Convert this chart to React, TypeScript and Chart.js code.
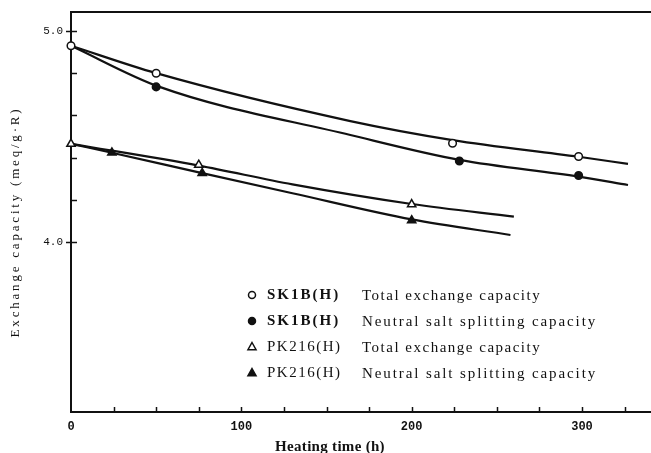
import React, { useEffect, useRef } from 'react';
import { Chart, registerables } from 'chart.js';

Chart.register(...registerables);

// ---- data ----
// Measured points (markers)
const sk1bTotalHours = [0, 50, 224, 298];
const sk1bTotalCap = [4.93, 4.80, 4.468, 4.405];
const sk1bSaltHours = [50, 228, 298];
const sk1bSaltCap = [4.735, 4.384, 4.315];
const pk216TotalHours = [0, 75, 200];
const pk216TotalCap = [4.465, 4.365, 4.178];
const pk216SaltHours = [24, 77, 200];
const pk216SaltCap = [4.423, 4.326, 4.102];

// Fitted curves
const sk1bTotalFitHours = [0, 50, 164, 224, 298, 327];
const sk1bTotalFitCap = [4.93, 4.80, 4.573, 4.483, 4.404, 4.37];
const sk1bSaltFitHours = [0, 52, 164, 228, 298, 327];
const sk1bSaltFitCap = [4.93, 4.735, 4.507, 4.389, 4.31, 4.27];
const pk216TotalFitHours = [0, 75, 130, 200, 260];
const pk216TotalFitCap = [4.465, 4.362, 4.273, 4.18, 4.12];
const pk216SaltFitHours = [0, 24, 77, 130, 200, 258];
const pk216SaltFitCap = [4.465, 4.423, 4.326, 4.231, 4.107, 4.033];

// Axes
const xMin = 0;
const xMax = 340.5;
const yMin = 3.194;
const yMax = 5.09;
const xLabelTicks = [0, 100, 200, 300];
const xMinorTicks = [25, 50, 75, 125, 150, 175, 225, 250, 275, 325];
const yLabelTicks = [4.0, 5.0];
const yMinorTicks = [4.2, 4.4, 4.6, 4.8];

const xTitle = 'Heating time (h)';
const yTitle = 'Exchange capacity (meq/g·R)';

// Legend
const legendNames = ['SK1B(H)', 'SK1B(H)', 'PK216(H)', 'PK216(H)'];
const legendDescriptions = [
  'Total exchange capacity',
  'Neutral salt splitting capacity',
  'Total exchange capacity',
  'Neutral salt splitting capacity',
];
const legendMarkers = ['openCircle', 'filledCircle', 'openTriangle', 'filledTriangle'];

const SERIF = "'Liberation Serif', 'Times New Roman', serif";
const MONO = "'Liberation Mono', 'DejaVu Sans Mono', monospace";
const INK = '#111';

const pts = (xs: number[], ys: number[]) => xs.map((x, i) => ({ x, y: ys[i] }));

function drawMarker(ctx: CanvasRenderingContext2D, kind: string, x: number, y: number) {
  ctx.save();
  ctx.lineWidth = 1.5;
  ctx.strokeStyle = INK;
  ctx.fillStyle = kind.startsWith('filled') ? INK : '#fff';
  ctx.beginPath();
  if (kind.endsWith('Circle')) {
    ctx.arc(x, y, 3.5, 0, Math.PI * 2);
  } else {
    const r = 4.5;
    ctx.moveTo(x, y - r);
    ctx.lineTo(x + r * 0.9, y + r * 0.6);
    ctx.lineTo(x - r * 0.9, y + r * 0.6);
    ctx.closePath();
  }
  ctx.fill();
  ctx.stroke();
  ctx.restore();
}

const decorPlugin = {
  id: 'decor',
  afterDraw(chart: any) {
    const { ctx, chartArea } = chart;
    const xs = chart.scales.x;
    const ys = chart.scales.y;
    ctx.save();
    ctx.strokeStyle = INK;
    // top frame line
    ctx.lineWidth = 2;
    ctx.beginPath();
    ctx.moveTo(chartArea.left, chartArea.top);
    ctx.lineTo(chartArea.right, chartArea.top);
    ctx.stroke();

    // y ticks
    ctx.lineWidth = 1.5;
    for (const v of yMinorTicks) {
      const p = Math.round(ys.getPixelForValue(v)) + 0.5;
      ctx.beginPath();
      ctx.moveTo(chartArea.left, p);
      ctx.lineTo(chartArea.left + 6, p);
      ctx.stroke();
    }
    for (const v of yLabelTicks) {
      const p = Math.round(ys.getPixelForValue(v)) + 0.5;
      ctx.beginPath();
      ctx.moveTo(chartArea.left - 5, p);
      ctx.lineTo(chartArea.left + 6, p);
      ctx.stroke();
    }
    // x ticks (inward)
    for (const v of [...xMinorTicks, ...xLabelTicks.filter((t) => t > 0)]) {
      const p = Math.round(xs.getPixelForValue(v)) + 0.5;
      ctx.beginPath();
      ctx.moveTo(p, chartArea.bottom);
      ctx.lineTo(p, chartArea.bottom - 5);
      ctx.stroke();
    }

    // axis titles
    ctx.fillStyle = INK;
    ctx.textAlign = 'center';
    ctx.textBaseline = 'middle';
    ctx.font = `bold 15px ${SERIF}`;
    (ctx as any).letterSpacing = '0.3px';
    ctx.fillText(xTitle, 330, 447);

    ctx.save();
    ctx.translate(16, 222);
    ctx.rotate(-Math.PI / 2);
    ctx.font = `13px ${SERIF}`;
    (ctx as any).letterSpacing = '2.8px';
    ctx.fillText(yTitle, 0, 0);
    ctx.restore();

    // legend
    ctx.textAlign = 'left';
    const rowY = [295, 321, 347, 373];
    for (let i = 0; i < legendNames.length; i++) {
      const y = rowY[i];
      drawMarker(ctx, legendMarkers[i], 252, y);
      ctx.fillStyle = INK;
      ctx.font = `${i < 2 ? 'bold ' : ''}15px ${SERIF}`;
      (ctx as any).letterSpacing = i < 2 ? '2px' : '1.5px';
      ctx.fillText(legendNames[i], 267, y);
      ctx.font = `15px ${SERIF}`;
      (ctx as any).letterSpacing = i % 2 === 1 ? '1.9px' : '1.5px';
      ctx.fillText(legendDescriptions[i], 362, y + 1);
    }
    ctx.restore();
  },
};

export default function App() {
  const ref = useRef<HTMLCanvasElement>(null);

  useEffect(() => {
    const canvas = ref.current;
    if (!canvas) return;

    const curve = (xs: number[], ys: number[]) => ({
      data: pts(xs, ys),
      showLine: true,
      borderColor: INK,
      borderWidth: 2.2,
      pointRadius: 0,
      cubicInterpolationMode: 'monotone' as const,
      fill: false,
      order: 5,
      clip: false as any,
    });
    const markers = (xs: number[], ys: number[], style: string, filled: boolean, order: number) => ({
      data: pts(xs, ys),
      showLine: false,
      pointStyle: style as any,
      pointRadius: style === 'triangle' ? 4.8 : 3.8,
      pointBorderWidth: 1.5,
      pointBorderColor: INK,
      pointBackgroundColor: filled ? INK : '#fff',
      order,
      clip: false as any,
    });

    const chart = new Chart(canvas, {
      type: 'scatter',
      data: {
        datasets: [
          curve(sk1bTotalFitHours, sk1bTotalFitCap),
          curve(sk1bSaltFitHours, sk1bSaltFitCap),
          curve(pk216TotalFitHours, pk216TotalFitCap),
          curve(pk216SaltFitHours, pk216SaltFitCap),
          markers(sk1bSaltHours, sk1bSaltCap, 'circle', true, 2),
          markers(pk216SaltHours, pk216SaltCap, 'triangle', true, 2),
          markers(sk1bTotalHours, sk1bTotalCap, 'circle', false, 1),
          markers(pk216TotalHours, pk216TotalCap, 'triangle', false, 1),
        ] as any,
      },
      options: {
        animation: false,
        responsive: false,
        events: [],
        layout: { autoPadding: false, padding: { top: 12, right: 0, left: 0, bottom: 0 } },
        plugins: {
          legend: { display: false },
          title: { display: false },
          tooltip: { enabled: false },
        },
        scales: {
          x: {
            type: 'linear',
            min: xMin,
            max: xMax,
            grid: { display: false },
            border: { display: true, color: INK, width: 2 },
            afterBuildTicks: (scale: any) => {
              scale.ticks = xLabelTicks.map((value) => ({ value }));
            },
            afterFit: (scale: any) => {
              scale.height = 41;
              scale.paddingLeft = 0;
              scale.paddingRight = 0;
            },
            ticks: {
              autoSkip: false,
              maxRotation: 0,
              color: INK,
              padding: 0,
              font: { family: MONO, size: 12, weight: 'bold' },
              callback: (v: any) => String(v),
            },
          },
          y: {
            type: 'linear',
            min: yMin,
            max: yMax,
            grid: { display: false },
            border: { display: true, color: INK, width: 2 },
            afterBuildTicks: (scale: any) => {
              scale.ticks = yLabelTicks.map((value) => ({ value }));
            },
            afterFit: (scale: any) => {
              scale.width = 71;
              scale.paddingTop = 0;
              scale.paddingBottom = 0;
            },
            ticks: {
              autoSkip: false,
              color: INK,
              padding: 0,
              font: { family: MONO, size: 11 },
              callback: (v: any) => Number(v).toFixed(1),
            },
          },
        },
      },
      plugins: [decorPlugin],
    });

    return () => chart.destroy();
  }, []);

  return (
    <div style={{ position: 'absolute', left: 0, top: 0, width: 651, height: 453, background: '#fff' }}>
      <canvas ref={ref} width={651} height={453} style={{ display: 'block', width: 651, height: 453 }} />
    </div>
  );
}
